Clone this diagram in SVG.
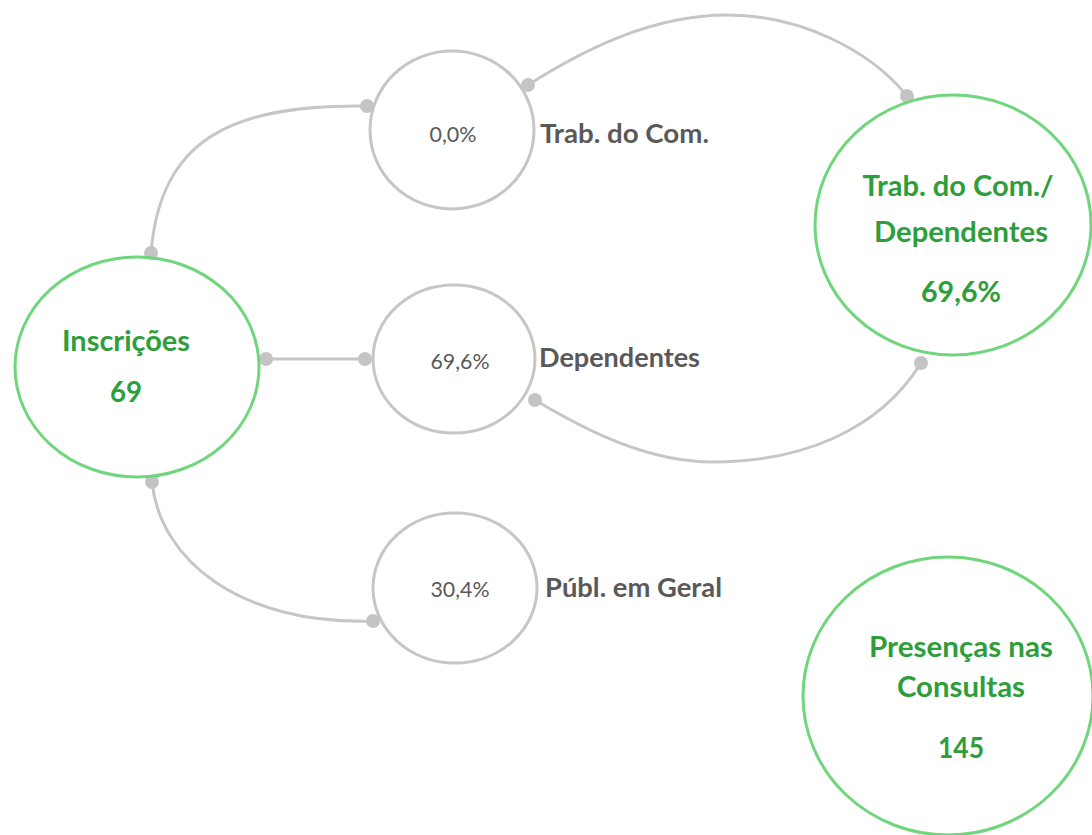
<svg xmlns="http://www.w3.org/2000/svg" width="1092" height="835" viewBox="0 0 1092 835">
<style>
.bg{fill:#ffffff}
.gn{fill:none;stroke:#70d67c;stroke-width:3}
.gy{fill:none;stroke:#c6c6c6;stroke-width:3}
.con{fill:none;stroke:#c6c6c6;stroke-width:3}
.dot{fill:#c4c4c4}
.tg{font-family:Lato,"Liberation Sans",sans-serif;font-weight:bold;fill:#2e9e3a;text-anchor:middle;font-size:28px}
.tv{font-family:Lato,"Liberation Sans",sans-serif;fill:#595959;text-anchor:middle;font-size:22px}
.tl{font-family:Lato,"Liberation Sans",sans-serif;font-weight:bold;fill:#595959;font-size:27px}
</style>
<rect class="bg" x="0" y="0" width="1092" height="835"/>
<g id="connectors">
<path class="con" d="M151,253 C160,140 230,104 367,106"/>
<line class="con" x1="266" y1="359" x2="365" y2="359"/>
<path class="con" d="M152,482 C160,560 240,625 373,621"/>
<path class="con" d="M528,85 C580,52 650,15 727,15 C800,15 870,50 907,96"/>
<path class="con" d="M535,400 C590,433 650,462 713,462 C800,462 879,431 921,363"/>
<circle class="dot" cx="151" cy="253" r="7"/>
<circle class="dot" cx="367" cy="106" r="7"/>
<circle class="dot" cx="266" cy="359" r="7"/>
<circle class="dot" cx="365" cy="359" r="7"/>
<circle class="dot" cx="152" cy="482" r="7"/>
<circle class="dot" cx="373" cy="621" r="7"/>
<circle class="dot" cx="528" cy="85" r="7"/>
<circle class="dot" cx="907" cy="96" r="7"/>
<circle class="dot" cx="535" cy="400" r="7"/>
<circle class="dot" cx="921" cy="363" r="7"/>
</g>
<g id="inscricoes">
<ellipse class="gn" cx="137" cy="367" rx="122" ry="110"/>
<text class="tg" x="126" y="351" textLength="128" lengthAdjust="spacingAndGlyphs">Inscrições</text>
<text class="tg" x="126" y="402" textLength="32" lengthAdjust="spacingAndGlyphs">69</text>
</g>
<g id="trab-com">
<ellipse class="gy" cx="452" cy="130" rx="82" ry="79"/>
<text class="tv" x="453" y="142" textLength="47" lengthAdjust="spacingAndGlyphs">0,0%</text>
<text class="tl" x="540" y="143" textLength="169" lengthAdjust="spacingAndGlyphs">Trab. do Com.</text>
</g>
<g id="dependentes">
<ellipse class="gy" cx="454" cy="359" rx="81" ry="74"/>
<text class="tv" x="460" y="369" textLength="59" lengthAdjust="spacingAndGlyphs">69,6%</text>
<text class="tl" x="539" y="367" textLength="161" lengthAdjust="spacingAndGlyphs">Dependentes</text>
</g>
<g id="publ-geral">
<ellipse class="gy" cx="455" cy="588" rx="82" ry="75"/>
<text class="tv" x="460" y="597" textLength="59" lengthAdjust="spacingAndGlyphs">30,4%</text>
<text class="tl" x="545" y="597" textLength="177" lengthAdjust="spacingAndGlyphs">Públ. em Geral</text>
</g>
<g id="trab-dependentes">
<ellipse class="gn" cx="953" cy="225" rx="138" ry="130"/>
<text class="tg" x="958" y="196" textLength="191" lengthAdjust="spacingAndGlyphs">Trab. do Com./</text>
<text class="tg" x="961" y="242" textLength="174" lengthAdjust="spacingAndGlyphs">Dependentes</text>
<text class="tg" x="961" y="302" textLength="80" lengthAdjust="spacingAndGlyphs">69,6%</text>
</g>
<g id="presencas">
<ellipse class="gn" cx="948" cy="696" rx="145" ry="139"/>
<text class="tg" x="961" y="657" textLength="184" lengthAdjust="spacingAndGlyphs">Presenças nas</text>
<text class="tg" x="961" y="697" textLength="128" lengthAdjust="spacingAndGlyphs">Consultas</text>
<text class="tg" x="961" y="758" textLength="46" lengthAdjust="spacingAndGlyphs">145</text>
</g>
</svg>
